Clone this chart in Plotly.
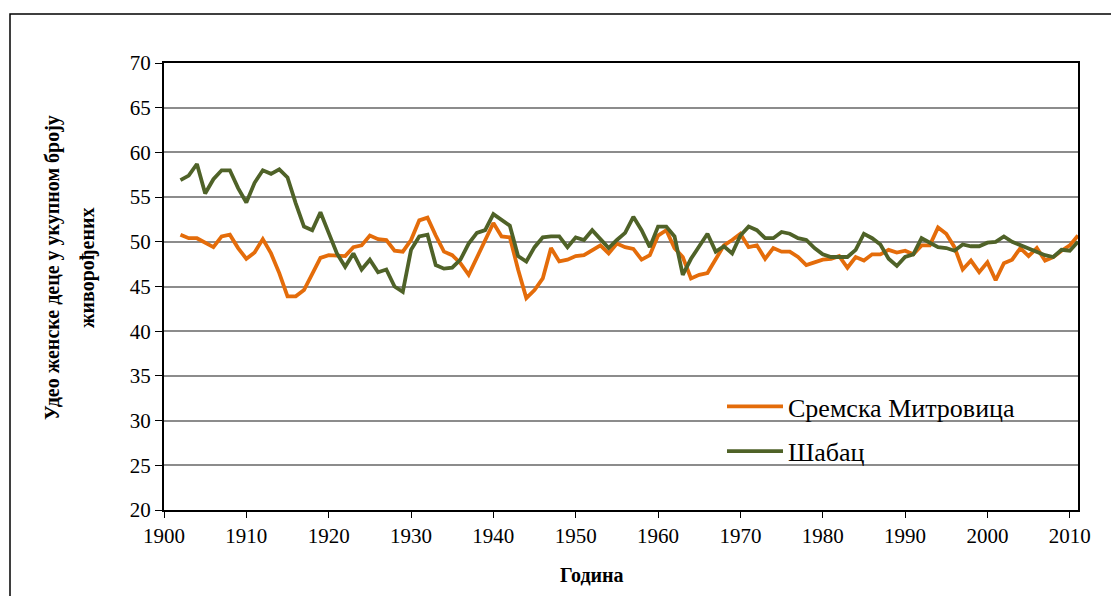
import plotly.graph_objects as go

years = list(range(1902, 2012))

sremska_mitrovica = [
    50.8, 50.4, 50.4, 49.9, 49.4, 50.6, 50.8, 49.3, 48.1, 48.8,
    50.3, 48.7, 46.5, 43.9, 43.9, 44.6, 46.5, 48.2, 48.5, 48.4,
    48.4, 49.4, 49.6, 50.7, 50.3, 50.2, 49.0, 48.9, 50.2, 52.4,
    52.7, 50.7, 48.9, 48.5, 47.6, 46.3, 48.3, 50.2, 52.1, 50.6,
    50.5, 46.9, 43.7, 44.6, 45.9, 49.3, 47.8, 48.0, 48.4, 48.5,
    49.0, 49.6, 48.7, 49.8, 49.4, 49.2, 48.0, 48.5, 50.7, 51.3,
    49.3, 48.3, 45.9, 46.3, 46.5, 48.0, 49.6, 50.2, 50.9, 49.4,
    49.6, 48.1, 49.3, 48.9, 48.9, 48.3, 47.4, 47.7, 48.0, 48.1,
    48.4, 47.1, 48.3, 47.9, 48.6, 48.6, 49.1, 48.8, 49.0, 48.6,
    49.6, 49.6, 51.6, 50.9, 49.4, 46.9, 47.9, 46.6, 47.7, 45.7,
    47.6, 48.0, 49.3, 48.4, 49.3, 47.9, 48.3, 49.0, 49.6, 50.7,
]

sabac = [
    56.9, 57.4, 58.7, 55.4, 57.0, 58.0, 58.0, 56.0, 54.4, 56.6,
    58.0, 57.6, 58.1, 57.2, 54.3, 51.7, 51.3, 53.3, 51.0, 48.7,
    47.2, 48.7, 46.9, 48.0, 46.6, 46.9, 45.0, 44.4, 49.1, 50.6,
    50.8, 47.4, 47.0, 47.1, 48.0, 49.8, 51.0, 51.3, 53.1, 52.4,
    51.8, 48.4, 47.8, 49.4, 50.5, 50.6, 50.6, 49.4, 50.5, 50.2,
    51.3, 50.3, 49.3, 50.2, 51.0, 52.8, 51.3, 49.4, 51.7, 51.7,
    50.6, 46.3, 48.1, 49.5, 50.9, 48.9, 49.5, 48.7, 50.7, 51.7,
    51.3, 50.4, 50.4, 51.1, 50.9, 50.4, 50.2, 49.3, 48.6, 48.3,
    48.3, 48.3, 49.1, 50.9, 50.4, 49.7, 48.1, 47.3, 48.3, 48.6,
    50.4, 49.9, 49.4, 49.3, 49.0, 49.7, 49.5, 49.5, 49.9, 50.0,
    50.6, 50.0, 49.6, 49.3, 48.8, 48.5, 48.3, 49.1, 49.0, 50.0,
]

series_names = ["Сремска Митровица", "Шабац"]
series_colors = ["#E46C0A", "#4F6228"]

x_tick_vals = [1900, 1910, 1920, 1930, 1940, 1950, 1960, 1970, 1980, 1990, 2000, 2010]
y_tick_vals = [20, 25, 30, 35, 40, 45, 50, 55, 60, 65, 70]

x_title = "Година"
y_title_line1 = "Удео женске деце у укупном броју"
y_title_line2 = "живорођених"

W, H = 1119, 596
# page has an 8px body margin; positions below are in figure pixels
L, R, T, B = 156, 1070, 55, 502
pw, ph = R - L, B - T


def px(x):
    return (x - L) / pw


def py(y):
    return (B - y) / ph


fig = go.Figure()
for name, vals, col in zip(series_names, [sremska_mitrovica, sabac], series_colors):
    fig.add_trace(go.Scatter(
        x=years, y=vals, mode="lines", name=name,
        line=dict(color=col, width=3.8),
        legendgroup=name,
    ))

font_family = "Times New Roman, Liberation Serif, serif"

fig.update_layout(
    width=W, height=H,
    margin=dict(l=L, r=W - R, t=T, b=H - B),
    paper_bgcolor="white", plot_bgcolor="white",
    font=dict(family=font_family, color="black", size=21),
    showlegend=True,
    legend=dict(
        x=px(714), y=py(375), xanchor="left", yanchor="top",
        font=dict(family=font_family, size=26, color="black"),
        bgcolor="rgba(0,0,0,0)", itemwidth=56,
        traceorder="grouped", tracegroupgap=8,
    ),
    xaxis=dict(
        range=[1900, 2011], tickmode="array", tickvals=x_tick_vals,
        ticks="outside", ticklen=6, tickcolor="black", tickwidth=1,
        showline=True, linecolor="black", linewidth=2, mirror=True,
        showgrid=False, zeroline=False,
        tickfont=dict(size=21, family=font_family),
    ),
    yaxis=dict(
        range=[20, 70], tickmode="array", tickvals=y_tick_vals,
        ticks="outside", ticklen=7, tickcolor="black", tickwidth=1,
        showline=True, linecolor="black", linewidth=2, mirror=True,
        showgrid=True, gridcolor="#8C8C8C", gridwidth=1.5,
        zeroline=False,
        tickfont=dict(size=21, family=font_family),
    ),
    annotations=[
        dict(text="<b>" + x_title + "</b>", xref="paper", yref="paper",
             x=px(584), y=py(567), xanchor="center", yanchor="middle",
             showarrow=False, font=dict(size=20, family=font_family)),
        dict(text="<b>" + y_title_line1 + "</b>", xref="paper", yref="paper",
             x=px(44), y=py(260), xanchor="center", yanchor="middle",
             textangle=-90, showarrow=False,
             font=dict(size=20, family=font_family)),
        dict(text="<b>" + y_title_line2 + "</b>", xref="paper", yref="paper",
             x=px(79), y=py(260), xanchor="center", yanchor="middle",
             textangle=-90, showarrow=False,
             font=dict(size=20, family=font_family)),
    ],
    shapes=[
        dict(type="rect", xref="paper", yref="paper",
             x0=px(2), x1=px(1125), y0=py(620), y1=py(6),
             line=dict(color="black", width=1.5), layer="below"),
    ],
)

fig.write_html("out.html")
